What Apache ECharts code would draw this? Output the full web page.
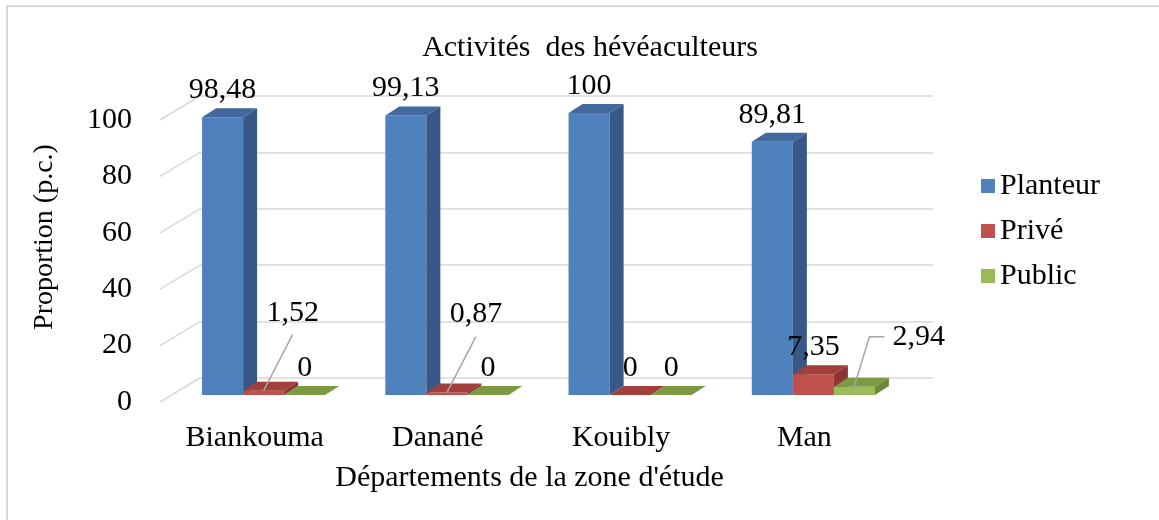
<!DOCTYPE html>
<html>
<head>
<meta charset="utf-8">
<script src="https://cdn.jsdelivr.net/npm/echarts@6/dist/echarts.min.js"></script>
<style>
  html, body { margin: 0; padding: 0; background: #fff; }
  #chart { width: 1159px; height: 520px; }
</style>
</head>
<body>
<div id="chart"></div>
<script>
const departements = ['Biankouma', 'Danané', 'Kouibly', 'Man']
const planteur = [98.48, 99.13, 100, 89.81]
const prive = [1.52, 0.87, 0, 7.35]
const publicVals = [0, 0, 0, 2.94]
const yTicks = [0, 20, 40, 60, 80, 100]

const FONT = '"Liberation Serif", "Times New Roman", serif'
const FS = 30
const DX = 14, DY = -9        // profondeur des barres
const GRID_COLOR = '#D9D9D9'

// étiquettes déplacées avec ligne de repère (comme dans Excel)
const calloutPrive = ['slant', 'slant', null, null]
const calloutPublic = [null, null, null, 'elbow']

function fmt(v) {
  return String(v).replace('.', ',')
}

function label(text, x, y, align) {
  return {
    type: 'text',
    style: {
      text: text, x: x, y: y,
      fill: '#000', fontSize: FS, fontFamily: FONT,
      align: align || 'center', verticalAlign: 'middle'
    }
  }
}

function leader(points) {
  return {
    type: 'polyline',
    shape: { points: points },
    style: { stroke: '#A6A6A6', lineWidth: 1.5, fill: null }
  }
}

function barRenderer(slot, faces, callouts) {
  return function (params, api) {
    const cat = api.value(0), val = api.value(1)
    const w = api.size([1, 0])[0] * 0.224
    const base = api.coord([cat, 0])
    const top = api.coord([cat, val])
    const x0 = base[0] - 1.5 * w + slot * w
    const by = base[1], ty = top[1]
    const children = [
      { type: 'rect', shape: { x: x0, y: ty, width: w, height: by - ty }, style: { fill: faces.front } },
      { type: 'polygon', shape: { points: [[x0, ty], [x0 + w, ty], [x0 + w + DX, ty + DY], [x0 + DX, ty + DY]] }, style: { fill: faces.top } },
      { type: 'polygon', shape: { points: [[x0 + w, ty], [x0 + w + DX, ty + DY], [x0 + w + DX, by + DY], [x0 + w, by]] }, style: { fill: faces.side } }
    ]
    const cx = x0 + w / 2
    const kind = callouts ? callouts[params.dataIndex] : null
    if (kind === 'slant') {
      children.push(leader([[cx, ty], [cx + 29, ty - 56]]))
      children.push(label(fmt(val), cx + 29, ty - 78))
    } else if (kind === 'elbow') {
      children.push(leader([[cx, ty - 1], [cx + 15, ty - 50], [cx + 30, ty - 50]]))
      children.push(label(fmt(val), cx + 38, ty - 50, 'left'))
    } else {
      children.push(label(fmt(val), cx, ty - 27))
    }
    return { type: 'group', children: children }
  }
}

function wallRenderer(params, api) {
  const x = params.coordSys.x
  const y = api.coord([0, api.value(1)])[1]
  return {
    type: 'line',
    shape: { x1: x, y1: y, x2: x - 40, y2: y + 24 },
    style: { stroke: GRID_COLOR, lineWidth: 1.5 }
  }
}

const chart = echarts.init(document.getElementById('chart'))
const textStyle = { color: '#000', fontSize: FS, fontFamily: FONT }

chart.setOption({
  backgroundColor: '#fff',
  animation: false,
  graphic: [{
    type: 'rect',
    shape: { x: 7, y: 6, width: 1200, height: 600 },
    style: { fill: null, stroke: GRID_COLOR, lineWidth: 2 },
    silent: true
  }],
  title: {
    text: 'Activités  des hévéaculteurs',
    left: 585, top: 28, textAlign: 'center',
    textStyle: { color: '#000', fontSize: FS, fontFamily: FONT, fontWeight: 'normal' }
  },
  legend: {
    data: ['Planteur', 'Privé', 'Public'],
    orient: 'vertical',
    left: 976, top: 166,
    itemWidth: 14, itemHeight: 14, itemGap: 15,
    icon: 'rect',
    textStyle: textStyle
  },
  grid: [
    { left: 163, right: 263, top: 120, bottom: 118 },   // plan avant (étiquettes)
    { left: 172, right: 254, top: 113, bottom: 125 },   // barres
    { left: 200, right: 226, top: 96, bottom: 142 }     // mur du fond
  ],
  xAxis: [{
    gridIndex: 0, type: 'category', data: departements,
    axisLine: { show: false }, axisTick: { show: false },
    axisLabel: Object.assign({ margin: 21 }, textStyle),
    name: "Départements de la zone d'étude",
    nameLocation: 'middle', nameGap: 61,
    nameTextStyle: textStyle
  }, {
    gridIndex: 1, type: 'category', data: departements, show: false
  }, {
    gridIndex: 2, type: 'category', data: departements, show: false
  }],
  yAxis: [{
    gridIndex: 0, type: 'value', min: 0, max: 100, interval: 20,
    axisLine: { show: false }, axisTick: { show: false },
    splitLine: { show: false },
    axisLabel: Object.assign({ margin: 31 }, textStyle)
  }, {
    gridIndex: 1, type: 'value', min: 0, max: 100, interval: 20, show: false
  }, {
    gridIndex: 2, type: 'value', min: 0, max: 100, interval: 20,
    axisLine: { show: false }, axisTick: { show: false },
    axisLabel: { show: false },
    splitLine: { lineStyle: { color: GRID_COLOR, width: 1.5 } },
    name: 'Proportion (p.c.)',
    nameLocation: 'middle', nameGap: 141,
    nameTextStyle: { color: '#000', fontSize: 28, fontFamily: FONT }
  }],
  series: [{
    type: 'custom', name: 'mur',
    xAxisIndex: 2, yAxisIndex: 2, silent: true, z: 1,
    renderItem: wallRenderer,
    data: yTicks.map(v => [0, v])
  }, {
    type: 'custom', name: 'Planteur',
    xAxisIndex: 1, yAxisIndex: 1, z: 2,
    itemStyle: { color: '#4F81BD' },
    renderItem: barRenderer(0, { front: '#4F81BD', top: '#41699E', side: '#385887' }),
    data: planteur.map((v, i) => [i, v])
  }, {
    type: 'custom', name: 'Privé',
    xAxisIndex: 1, yAxisIndex: 1, z: 3,
    itemStyle: { color: '#C0504D' },
    renderItem: barRenderer(1, { front: '#C0504D', top: '#A13F3C', side: '#8B3633' }, calloutPrive),
    data: prive.map((v, i) => [i, v])
  }, {
    type: 'custom', name: 'Public',
    xAxisIndex: 1, yAxisIndex: 1, z: 4,
    itemStyle: { color: '#9BBB59' },
    renderItem: barRenderer(2, { front: '#9BBB59', top: '#7C9A41', side: '#6C8839' }, calloutPublic),
    data: publicVals.map((v, i) => [i, v])
  }]
})
</script>
</body>
</html>
